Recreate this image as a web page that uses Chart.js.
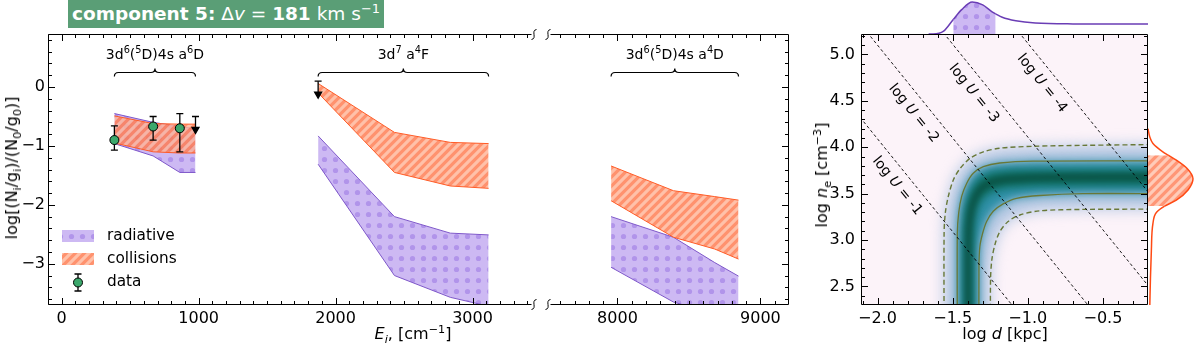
<!DOCTYPE html>
<html>
<head>
<meta charset="utf-8">
<script src="https://cdn.jsdelivr.net/npm/chart.js@4.4.1/dist/chart.umd.min.js"></script>
<style>
  body { margin: 0; width: 1196px; height: 347px; position: relative; overflow: hidden; background: #fff; font-family: 'DejaVu Sans', sans-serif; }
  canvas { position: absolute; }
  .lab { position: absolute; white-space: nowrap; font-size: 16px; line-height: 20px; transform: translate(-50%, -50%); color: #000; }
  .rot { transform: translate(-50%, -50%) rotate(-90deg); }
  sub, sup { font-size: 70%; line-height: 0; }
  #title { position: absolute; left: 68px; top: 0; height: 28px; padding: 0 4px; background: #5a9e76; color: #fff;
           font-size: 18.5px; line-height: 28px; white-space: nowrap; z-index: 5; }
</style>
</head>
<body>
<canvas id="cA" width="541" height="347" style="left:0;top:0"></canvas>
<canvas id="cB" width="259" height="347" style="left:541px;top:0"></canvas>
<canvas id="cH" width="360" height="347" style="left:800px;top:0"></canvas>
<canvas id="cT" width="287" height="34" style="left:861px;top:0"></canvas>
<canvas id="cR" width="48" height="271" style="left:1148px;top:34px"></canvas>
<div id="title"><b>component 5:</b> &Delta;<i>v</i> = <b>181</b> km s<sup>&minus;1</sup></div>
<div class="lab rot" style="left:12px;top:168px">log[(N<sub>i</sub>/g<sub>i</sub>)/(N<sub>0</sub>/g<sub>0</sub>)]</div>
<div class="lab" style="left:413px;top:334px"><i>E<sub>i</sub></i>, [cm<sup>&minus;1</sup>]</div>
<div class="lab rot" style="left:822px;top:175px">log <i>n</i><sub>e</sub> [cm<sup>&minus;3</sup>]</div>
<div class="lab" style="left:1005px;top:334px">log <i>d</i> [kpc]</div>
<script>
// ---------- left panel: Fe II level populations ----------
const xRangeA = [-100, 3460];
const xRangeB = [7500, 9200];
const yRangeL = [-3.7, 0.9];
const xTicksA = [0, 1000, 2000, 3000];
const xTicksB = [8000, 9000];
const yTicksL = [-3, -2, -1, 0];

// '^' marks a one-character superscript
const groupNames = ['3d^6(^5D)4s a^6D', '3d^7 a^4F', '3d^6(^5D)4s a^4D'];
const legendLabels = ['radiative', 'collisions', 'data'];

// level energies (cm^-1)
const eA6D = [384.8, 667.7, 862.6, 977.1];
const eA4F = [1872.6, 2430.1, 2837.9, 3117.5];
const eA4D = [7955.3, 8391.9, 8680.5, 8846.8];

// model ranges
const radHiA6D = [-0.45, -0.60, -0.67, -0.71];
const radLoA6D = [-0.96, -1.17, -1.45, -1.45];
const colHiA6D = [-0.49, -0.62, -0.63, -0.63];
const colLoA6D = [-0.95, -1.10, -1.12, -1.12];

const radHiA4F = [-0.83, -2.20, -2.48, -2.51];
const radLoA4F = [-1.31, -3.20, -3.57, -3.72];
const colHiA4F = [0.06, -0.77, -0.94, -0.96];
const colLoA4F = [-0.10, -1.45, -1.68, -1.72];

const radHiA4D = [-2.20, -2.55, -2.98, -3.21];
const radLoA4D = [-3.06, -3.65, -3.85, -3.95];
const colHiA4D = [-1.34, -1.76, -1.86, -1.92];
const colLoA4D = [-1.93, -2.55, -2.75, -2.92];

// measurements
const dataE = [384.8, 667.7, 862.6];
const dataVal = [-0.90, -0.67, -0.70];
const dataErrMinus = [0.17, 0.23, 0.40];
const dataErrPlus = [0.24, 0.17, 0.25];
const limE = [977.1, 1872.6];
const limVal = [-0.50, 0.10];

// ---------- right panel: log d vs log ne ----------
const xRangeH = [-2.11, -0.2];
const yRangeH = [2.3, 5.22];
const xTicksH = [-2.0, -1.5, -1.0, -0.5];
const yTicksH = [2.5, 3.0, 3.5, 4.0, 4.5, 5.0];

// contours: [log d, log ne]
const dashOuter = [[-1.557,2.0],[-1.557,3.07],[-1.549,3.29],[-1.529,3.47],[-1.495,3.65],[-1.451,3.77],[-1.385,3.88],[-1.296,3.95],[-1.186,3.99],[-0.965,4.01],[-0.633,4.02],[-0.1,4.03]];
const solidOuter = [[-1.469,2.0],[-1.469,3.07],[-1.46,3.29],[-1.44,3.47],[-1.407,3.61],[-1.363,3.72],[-1.296,3.79],[-1.186,3.83],[-0.965,3.85],[-0.1,3.853]];
const solidInner = [[-1.325,2.0],[-1.325,2.71],[-1.319,2.93],[-1.301,3.07],[-1.274,3.20],[-1.23,3.31],[-1.164,3.39],[-1.075,3.45],[-0.92,3.48],[-0.633,3.50],[-0.1,3.50]];
const dashInner = [[-1.248,2.0],[-1.248,2.57],[-1.239,2.79],[-1.217,2.96],[-1.186,3.09],[-1.131,3.20],[-1.053,3.27],[-0.92,3.315],[-0.633,3.33],[-0.1,3.333]];
const coreOuter = [[-1.429,2.0],[-1.429,3.1],[-1.42,3.3],[-1.40,3.45],[-1.37,3.57],[-1.32,3.67],[-1.24,3.73],[-1.1,3.755],[-0.1,3.76]];
const coreInner = [[-1.363,2.0],[-1.363,2.95],[-1.355,3.2],[-1.335,3.35],[-1.30,3.45],[-1.24,3.52],[-1.15,3.56],[-0.95,3.58],[-0.1,3.584]];
const ridge = [[-1.396,2.0],[-1.396,3.0],[-1.385,3.25],[-1.358,3.43],[-1.307,3.56],[-1.23,3.63],[-1.097,3.66],[-0.854,3.677],[-0.1,3.68]];

// ionisation parameter lines
const logULabels = ['-1', '-2', '-3', '-4'];
const logULines = [
  [[-2.3, 4.69], [-0.9, 1.89]],
  [[-2.3, 5.70], [-0.4, 1.90]],
  [[-1.7, 5.51], [-0.1, 2.31]],
  [[-1.2, 5.52], [-0.1, 3.32]]
];

// marginal distributions
const margD = [-1.66, -1.63, -1.56, -1.496, -1.44, -1.37, -1.30, -1.24, -1.214, -1.17, -1.08, -0.95, -0.70, -0.20];
const margDDens = [0, 0, 0.09, 0.45, 0.76, 1.0, 0.91, 0.70, 0.63, 0.52, 0.41, 0.34, 0.315, 0.31];
const margDBand = [-1.496, -1.214];
const margN = [2.30, 2.60, 2.89, 3.18, 3.30, 3.366, 3.43, 3.54, 3.66, 3.77, 3.86, 3.914, 3.95, 4.04, 4.11, 4.20];
const margNDens = [0.04, 0.055, 0.075, 0.11, 0.19, 0.37, 0.63, 0.89, 1.0, 0.87, 0.63, 0.45, 0.33, 0.11, 0.04, 0];
const margNBand = [3.366, 3.914];

// ---------- styling ----------
Chart.defaults.font.family = "'DejaVu Sans', sans-serif";
Chart.defaults.font.size = 16;
Chart.defaults.color = '#000';
Chart.defaults.plugins.legend.display = false;
Chart.defaults.plugins.tooltip.enabled = false;

function dotPattern(bg, fg, step, r) {
  const c = document.createElement('canvas');
  c.width = c.height = step;
  const g = c.getContext('2d');
  g.fillStyle = bg; g.fillRect(0, 0, step, step);
  g.fillStyle = fg; g.beginPath(); g.arc(step / 2, step / 2, r, 0, Math.PI * 2); g.fill();
  return g.createPattern(c, 'repeat');
}
function stripePattern(bg, fg, step, alpha) {
  const t = document.createElement('canvas');
  t.width = t.height = step;
  const g = t.getContext('2d');
  g.fillStyle = bg; g.fillRect(0, 0, step, step);
  g.strokeStyle = fg; g.lineWidth = step / (2 * Math.SQRT2);
  g.beginPath();
  g.moveTo(-step, step); g.lineTo(step, -step);
  g.moveTo(0, step); g.lineTo(step, 0);
  g.moveTo(0, 2 * step); g.lineTo(2 * step, 0);
  g.stroke();
  const c = document.createElement('canvas');
  c.width = c.height = step;
  const h = c.getContext('2d');
  h.globalAlpha = alpha; h.drawImage(t, 0, 0);
  return h.createPattern(c, 'repeat');
}

const radFill = dotPattern('#cdb9f3', '#b194ea', 11, 2.6);
const colFill = stripePattern('#ff7a4f', '#ffb497', 9, 0.82);
const colFillM = stripePattern('#ff9676', '#ffcbb8', 9, 1);
const radLine = '#7e57c9';
const colLine = '#ff5b26';
const dataGreen = '#3ca86c';
const contourCol = '#687838';

const fmt = (v, d) => (v < 0 ? '\u2212' : '') + Math.abs(v).toFixed(d);
function steps(a, b, s) {
  const out = [];
  for (let i = 0; a + i * s <= b + 1e-9; i++) out.push(+(a + i * s).toFixed(4));
  return out;
}
function axis(range, ticks, digits, show, size, horizontal, pad) {
  return {
    type: 'linear', min: range[0], max: range[1], display: show,
    grid: { display: false, drawTicks: false }, border: { display: false },
    ticks: { autoSkip: false, maxRotation: 0, padding: pad, callback: v => fmt(v, digits) },
    afterBuildTicks: s => { s.ticks = ticks.map(v => ({ value: v })); },
    afterFit: s => { if (horizontal) s.height = size; else s.width = size; }
  };
}

function frame(o) {
  return {
    id: 'frame',
    afterDraw(chart) {
      const { ctx, chartArea: a } = chart;
      const sx = chart.scales.x, sy = chart.scales.y;
      const L = Math.round(a.left) + 0.5, R = Math.round(a.right) - 0.5;
      const T = Math.round(a.top) + 0.5, B = Math.round(a.bottom) - 0.5;
      const x0 = o.breakLeft ? L + 4 : L, x1 = o.breakRight ? R - 4 : R;
      ctx.save();
      ctx.filter = 'none';
      ctx.strokeStyle = '#000';
      ctx.lineWidth = 1;
      ctx.beginPath();
      ctx.moveTo(x0, T); ctx.lineTo(x1, T);
      ctx.moveTo(x0, B); ctx.lineTo(x1, B);
      if (o.left) { ctx.moveTo(L, T); ctx.lineTo(L, B); }
      if (o.right) { ctx.moveTo(R, T); ctx.lineTo(R, B); }
      const xt = (vals, len) => vals.forEach(v => {
        const p = Math.round(sx.getPixelForValue(v)) + 0.5;
        if (p < x0 - 0.1 || p > x1 + 0.1) return;
        ctx.moveTo(p, B); ctx.lineTo(p, B - len);
        ctx.moveTo(p, T); ctx.lineTo(p, T + len);
      });
      const yt = (vals, len) => vals.forEach(v => {
        const p = Math.round(sy.getPixelForValue(v)) + 0.5;
        if (p < T - 0.1 || p > B + 0.1) return;
        if (o.left) { ctx.moveTo(L, p); ctx.lineTo(L + len, p); }
        if (o.right) { ctx.moveTo(R, p); ctx.lineTo(R - len, p); }
      });
      xt(o.xMinor, 3.5); xt(o.xMajor, 6.5);
      yt(o.yMinor, 3.5); yt(o.yMajor, 6.5);
      ctx.stroke();
      if (o.breakRight || o.breakLeft) {
        const cx = o.breakRight ? R - 1.5 : L + 1.5;
        ctx.beginPath();
        [T, B].forEach(cy => {
          ctx.moveTo(cx + 2.5, cy - 5);
          ctx.bezierCurveTo(cx - 3.5, cy - 4, cx + 3.5, cy + 4, cx - 2.5, cy + 5);
        });
        ctx.stroke();
      }
      ctx.restore();
    }
  };
}

// draws text where '^x' is a superscript character; centred at (cx, y)
function drawRich(ctx, txt, cx, y, size) {
  const parts = [];
  for (let i = 0; i < txt.length; i++) {
    if (txt[i] === '^') { parts.push([txt[i + 1], true]); i++; }
    else parts.push([txt[i], false]);
  }
  const fontOf = sup => (sup ? size * 0.7 : size) + "px 'DejaVu Sans'";
  let w = 0;
  parts.forEach(p => { ctx.font = fontOf(p[1]); w += ctx.measureText(p[0]).width; });
  let x = cx - w / 2;
  ctx.textAlign = 'left';
  parts.forEach(p => {
    ctx.font = fontOf(p[1]);
    ctx.fillText(p[0], x, p[1] ? y - size * 0.42 : y);
    x += ctx.measureText(p[0]).width;
  });
}

function groupsPlugin(list) {
  return {
    id: 'groups',
    afterDraw(chart) {
      const { ctx } = chart;
      const x = chart.scales.x;
      ctx.save();
      ctx.strokeStyle = '#000'; ctx.lineWidth = 1.2; ctx.fillStyle = '#000';
      ctx.textBaseline = 'alphabetic';
      list.forEach(g => {
        const xa = x.getPixelForValue(Math.min(...g.e)), xb = x.getPixelForValue(Math.max(...g.e));
        const xm = (xa + xb) / 2, yb = 72.5, r = 4;
        ctx.beginPath();
        ctx.moveTo(xa, yb + r); ctx.quadraticCurveTo(xa, yb, xa + r, yb);
        ctx.lineTo(xm - r, yb); ctx.quadraticCurveTo(xm, yb, xm, yb - r);
        ctx.quadraticCurveTo(xm, yb, xm + r, yb); ctx.lineTo(xb - r, yb);
        ctx.quadraticCurveTo(xb, yb, xb, yb + r);
        ctx.stroke();
        drawRich(ctx, g.name, xm, 59, 14);
      });
      ctx.restore();
    }
  };
}

const legendPlugin = {
  id: 'legendL',
  afterDraw(chart) {
    const ctx = chart.ctx;
    ctx.save();
    ctx.fillStyle = radFill; ctx.fillRect(62, 230, 32, 12);
    ctx.fillStyle = colFill; ctx.fillRect(62, 253, 32, 12);
    ctx.strokeStyle = '#000'; ctx.lineWidth = 1.3;
    ctx.beginPath();
    ctx.moveTo(78, 274); ctx.lineTo(78, 291);
    ctx.moveTo(74.5, 274); ctx.lineTo(81.5, 274);
    ctx.moveTo(74.5, 291); ctx.lineTo(81.5, 291);
    ctx.stroke();
    ctx.beginPath(); ctx.arc(78, 282.5, 4.5, 0, Math.PI * 2);
    ctx.fillStyle = dataGreen; ctx.fill(); ctx.lineWidth = 1; ctx.stroke();
    ctx.fillStyle = '#000'; ctx.font = "15.3px 'DejaVu Sans'"; ctx.textBaseline = 'middle'; ctx.textAlign = 'left';
    legendLabels.forEach((t, i) => ctx.fillText(t, 107, 236 + i * 23));
    ctx.restore();
  }
};

function band(xs, hi, lo, line, pattern) {
  return [
    { data: xs.map((x, i) => ({ x, y: hi[i] })), borderColor: line, borderWidth: 1, fill: false, pointRadius: 0 },
    { data: xs.map((x, i) => ({ x, y: lo[i] })), borderColor: line, borderWidth: 1, fill: '-1', backgroundColor: pattern, pointRadius: 0 }
  ];
}
function errorBars(xs, ys, lo, hi) {
  return xs.map((x, i) => ({
    data: [{ x, y: ys[i] + hi[i] }, { x, y: ys[i] - lo[i] }],
    borderColor: '#000', borderWidth: 1.3, fill: false,
    pointStyle: 'line', pointRadius: 3.5, pointBorderColor: '#000', pointBorderWidth: 1.3
  }));
}
function upperLimits(xs, ys) {
  return xs.map((x, i) => ({
    data: [{ x, y: ys[i] }, { x, y: ys[i] - 0.22 }],
    borderColor: '#000', borderWidth: 1.3, fill: false,
    pointStyle: ['line', 'triangle'], pointRotation: [0, 180], pointRadius: [3.5, 4],
    pointBackgroundColor: '#000', pointBorderColor: '#000', pointBorderWidth: 1.3
  }));
}

const baseOpts = { responsive: false, animation: false, events: [] };

// ---------- chart A (0 - 3460 cm^-1) ----------
new Chart(document.getElementById('cA'), {
  type: 'line',
  data: {
    datasets: [
      { data: dataE.map((e, i) => ({ x: e, y: dataVal[i] })), showLine: false, pointRadius: 4.5,
        pointBackgroundColor: dataGreen, pointBorderColor: '#000', pointBorderWidth: 1 },
      ...errorBars(dataE, dataVal, dataErrMinus, dataErrPlus),
      ...upperLimits(limE, limVal),
      ...band(eA6D, colHiA6D, colLoA6D, colLine, colFill),
      ...band(eA4F, colHiA4F, colLoA4F, colLine, colFill),
      ...band(eA6D, radHiA6D, radLoA6D, radLine, radFill),
      ...band(eA4F, radHiA4F, radLoA4F, radLine, radFill)
    ]
  },
  options: {
    ...baseOpts,
    layout: { padding: { left: 0, right: 5, top: 34, bottom: 0 } },
    scales: {
      x: axis(xRangeA, xTicksA, 0, true, 42, true, 4),
      y: axis(yRangeL, yTicksL, 0, true, 48, false, 3)
    }
  },
  plugins: [
    frame({ left: true, breakRight: true, xMajor: xTicksA, xMinor: steps(-100, 3400, 100), yMajor: yTicksL, yMinor: steps(-3.6, 0.8, 0.2) }),
    groupsPlugin([{ name: groupNames[0], e: eA6D }, { name: groupNames[1], e: eA4F }]),
    legendPlugin
  ]
});

// ---------- chart B (7500 - 9200 cm^-1) ----------
new Chart(document.getElementById('cB'), {
  type: 'line',
  data: {
    datasets: [
      ...band(eA4D, colHiA4D, colLoA4D, colLine, colFill),
      ...band(eA4D, radHiA4D, radLoA4D, radLine, radFill)
    ]
  },
  options: {
    ...baseOpts,
    layout: { padding: { left: 5, right: 11, top: 34, bottom: 0 } },
    scales: {
      x: axis(xRangeB, xTicksB, 0, true, 42, true, 4),
      y: axis(yRangeL, yTicksL, 0, false, 0, false, 3)
    }
  },
  plugins: [
    frame({ right: true, breakLeft: true, xMajor: xTicksB, xMinor: steps(7500, 9200, 100), yMajor: yTicksL, yMinor: steps(-3.6, 0.8, 0.2) }),
    groupsPlugin([{ name: groupNames[2], e: eA4D }])
  ]
});

// ---------- heat map ----------
const pts = arr => arr.map(p => ({ x: p[0], y: p[1] }));
const shape = (outer, inner) => [{ x: -3, y: 2.0 }, ...pts(outer), ...pts(inner).reverse(), { x: 1, y: 2.0 }];
const blurOf = (chart, i) => { const b = chart.data.datasets[i].blur; return b ? 'blur(' + b + 'px)' : 'none'; };
// label anchor positions (data units) along each line
const logUTextPos = [[-1.869, 3.584], [-1.760, 4.365], [-1.359, 4.580], [-0.905, 4.688]];

const mapLayers = {
  id: 'mapLayers',
  beforeDatasetsDraw(chart) {
    const { ctx, chartArea: a } = chart;
    ctx.save(); ctx.fillStyle = '#fcf3f9'; ctx.fillRect(a.left, a.top, a.width, a.height); ctx.restore();
    const metas = chart.getSortedVisibleDatasetMetas();
    ctx.filter = blurOf(chart, metas[metas.length - 1].index);
  },
  afterDatasetDraw(chart, args) {
    const metas = chart.getSortedVisibleDatasetMetas();
    const pos = metas.findIndex(m => m.index === args.index);
    const next = metas[pos - 1];
    chart.ctx.filter = next ? blurOf(chart, next.index) : 'none';
  },
  afterDatasetsDraw(chart) {
    const { ctx } = chart;
    const x = chart.scales.x, y = chart.scales.y;
    ctx.filter = 'none';
    ctx.save();
    ctx.fillStyle = '#000'; ctx.textBaseline = 'middle';
    const normal = "14px 'DejaVu Sans'", ital = "italic 14px 'DejaVu Sans'";
    logULabels.forEach((lab, i) => {
      const [p, q] = logULines[i];
      const ang = Math.atan2(y.getPixelForValue(q[1]) - y.getPixelForValue(p[1]), x.getPixelForValue(q[0]) - x.getPixelForValue(p[0]));
      const pos = logUTextPos[i];
      const parts = [['log ', normal], ['U', ital], [' = ' + lab, normal]];
      let w = 0;
      parts.forEach(pt => { ctx.font = pt[1]; w += ctx.measureText(pt[0]).width; });
      ctx.save();
      ctx.translate(x.getPixelForValue(pos[0]), y.getPixelForValue(pos[1]));
      ctx.rotate(ang);
      let cx = -w / 2;
      parts.forEach(pt => { ctx.font = pt[1]; ctx.fillText(pt[0], cx, 0); cx += ctx.measureText(pt[0]).width; });
      ctx.restore();
    });
    ctx.restore();
  }
};

new Chart(document.getElementById('cH'), {
  type: 'line',
  data: {
    datasets: [
      ...logULines.map(l => ({ data: pts(l), borderColor: '#000', borderWidth: 0.9, borderDash: [3, 2.5], pointRadius: 0, fill: false })),
      { data: pts(dashOuter), borderColor: contourCol, borderWidth: 1.4, borderDash: [5, 3], tension: 0.3, pointRadius: 0, fill: false },
      { data: pts(dashInner), borderColor: contourCol, borderWidth: 1.4, borderDash: [5, 3], tension: 0.3, pointRadius: 0, fill: false },
      { data: pts(solidOuter), borderColor: contourCol, borderWidth: 1.3, tension: 0.3, pointRadius: 0, fill: false },
      { data: pts(solidInner), borderColor: contourCol, borderWidth: 1.3, tension: 0.3, pointRadius: 0, fill: false },
      { data: pts(ridge), borderColor: '#09493c', borderWidth: 5, tension: 0.3, pointRadius: 0, fill: false, blur: 3, clip: 0 },
      { data: shape(coreOuter, coreInner), backgroundColor: '#0d6c5e', borderColor: 'transparent', borderWidth: 0, fill: 'shape', pointRadius: 0, blur: 4 },
      { data: shape(solidOuter, solidInner), backgroundColor: '#2d8fa6', borderColor: 'transparent', borderWidth: 0, fill: 'shape', pointRadius: 0, blur: 5 },
      { data: shape(dashOuter, dashInner), backgroundColor: '#b3c7e2', borderColor: 'transparent', borderWidth: 0, fill: 'shape', pointRadius: 0, blur: 7 }
    ]
  },
  options: {
    ...baseOpts,
    layout: { padding: { left: 0, right: 12, top: 34, bottom: 0 } },
    scales: {
      x: axis(xRangeH, xTicksH, 1, true, 42, true, 4),
      y: axis(yRangeH, yTicksH, 1, true, 61, false, 6)
    }
  },
  plugins: [
    mapLayers,
    frame({ left: true, right: true, xMajor: xTicksH, xMinor: steps(-2.1, -0.2, 0.1), yMajor: yTicksH, yMinor: steps(2.3, 5.2, 0.1) })
  ]
});

// ---------- top marginal (log d) ----------
new Chart(document.getElementById('cT'), {
  type: 'line',
  data: {
    datasets: [{
      data: margD.map((x, i) => ({ x, y: margDDens[i] })),
      borderColor: '#6a3db5', borderWidth: 1.5, pointRadius: 0, cubicInterpolationMode: 'monotone',
      fill: 'origin', backgroundColor: 'transparent',
      segment: { backgroundColor: c => (c.p0.parsed.x >= margDBand[0] - 1e-6 && c.p1.parsed.x <= margDBand[1] + 1e-6) ? radFill : 'transparent' }
    }]
  },
  options: {
    ...baseOpts,
    layout: { padding: 0 },
    scales: {
      x: { type: 'linear', display: false, min: xRangeH[0], max: xRangeH[1] },
      y: { type: 'linear', display: false, min: 0, max: 1.06 }
    }
  }
});

// ---------- right marginal (log ne) ----------
new Chart(document.getElementById('cR'), {
  type: 'line',
  data: {
    datasets: [{
      data: margN.map((y, i) => ({ x: margNDens[i], y })),
      borderColor: '#ff4a14', borderWidth: 1.5, pointRadius: 0, cubicInterpolationMode: 'monotone',
      fill: 'origin', backgroundColor: 'transparent',
      segment: { backgroundColor: c => (c.p0.parsed.y >= margNBand[0] - 1e-6 && c.p1.parsed.y <= margNBand[1] + 1e-6) ? colFillM : 'transparent' }
    }]
  },
  options: {
    ...baseOpts,
    indexAxis: 'y',
    layout: { padding: 0 },
    scales: {
      x: { type: 'linear', display: false, min: 0, max: 1.067 },
      y: { type: 'linear', display: false, min: yRangeH[0], max: yRangeH[1] }
    }
  }
});
</script>
</body>
</html>
